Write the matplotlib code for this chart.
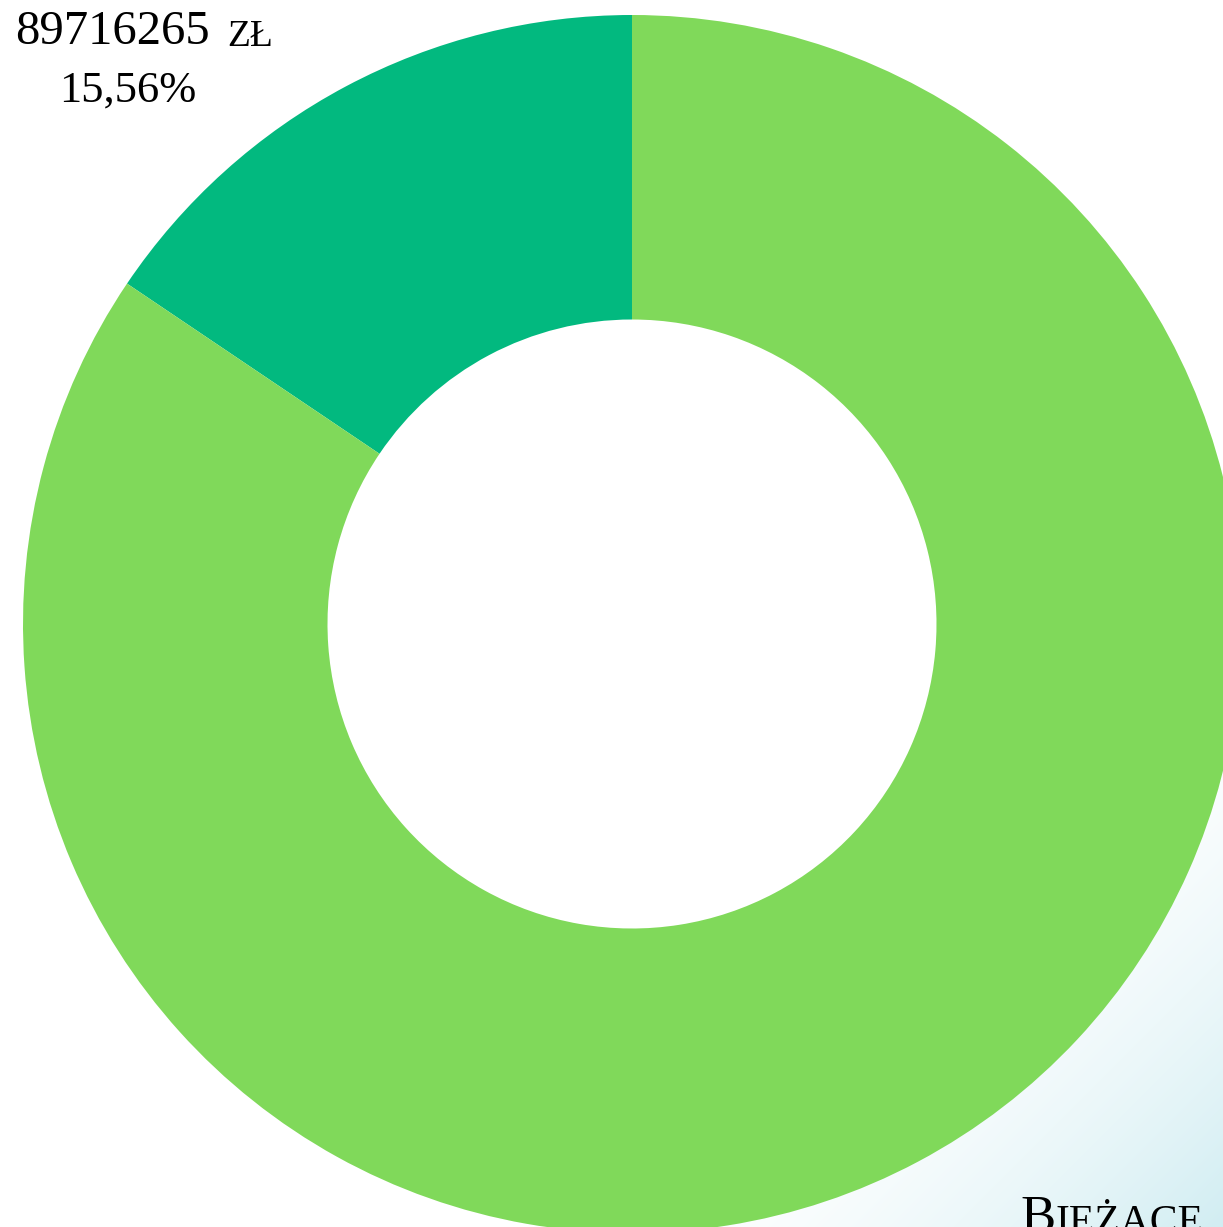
import numpy as np
import matplotlib
matplotlib.use("Agg")
from matplotlib import pyplot as plt

# slice values (zł) and styling
labels = ["Inne", "Bieżące"]
amounts = [89716265, 486866415]
shares = ["15,56%", "84,44%"]
colors = ["#02b97f", "#80d95a"]

W, H = 1223, 1227
fig = plt.figure(figsize=(W / 100, H / 100), dpi=100)
ax = fig.add_axes([0, 0, 1, 1])

# soft blue wash in the bottom-right corner (pixel rows from the top)
yy, xx = np.mgrid[0:H, 0:W]
t = np.clip(((xx - 880) + (yy - 960)) / 610.0, 0, 1)
rgba = np.zeros((H, W, 4))
rgba[..., 0] = 0.82
rgba[..., 1] = 0.93
rgba[..., 2] = 0.95
rgba[..., 3] = t ** 1.6
ax.imshow(rgba, extent=(0, W, 0, H), origin="upper", zorder=0, aspect="auto")

cx, cy, r = 632, H - 624, 609
wedges, _ = ax.pie(amounts, colors=colors, startangle=90, counterclock=True,
                   center=(cx, cy), radius=r, frame=True,
                   wedgeprops=dict(width=r * 0.5, linewidth=0))
for w in wedges:
    w.set_zorder(2)
ax.set_xlim(0, W)
ax.set_ylim(0, H)
ax.set_aspect("auto")
ax.axis("off")

serif = "Liberation Serif"
t1 = ax.text(15, H - 44, "89716265", fontsize=35, family=serif, ha="left",
             va="baseline", color="black", zorder=5)
ax.annotate("ZŁ", xy=(1, 0), xycoords=t1, xytext=(13, 0),
            textcoords="offset points", fontsize=27, family=serif,
            ha="left", va="bottom", color="black", zorder=5)
ax.text(128, H - 102, shares[0], fontsize=32, family=serif, ha="center",
        va="baseline", color="black", zorder=5)

tb = ax.text(1020, -5, "B", fontsize=38, family=serif, ha="left",
             va="baseline", color="black", zorder=5)
ax.annotate("IEŻĄCE", xy=(1, 0), xycoords=tb, fontsize=30, family=serif,
            ha="left", va="bottom", color="black", zorder=5)

fig.savefig("out.png", dpi=100)
